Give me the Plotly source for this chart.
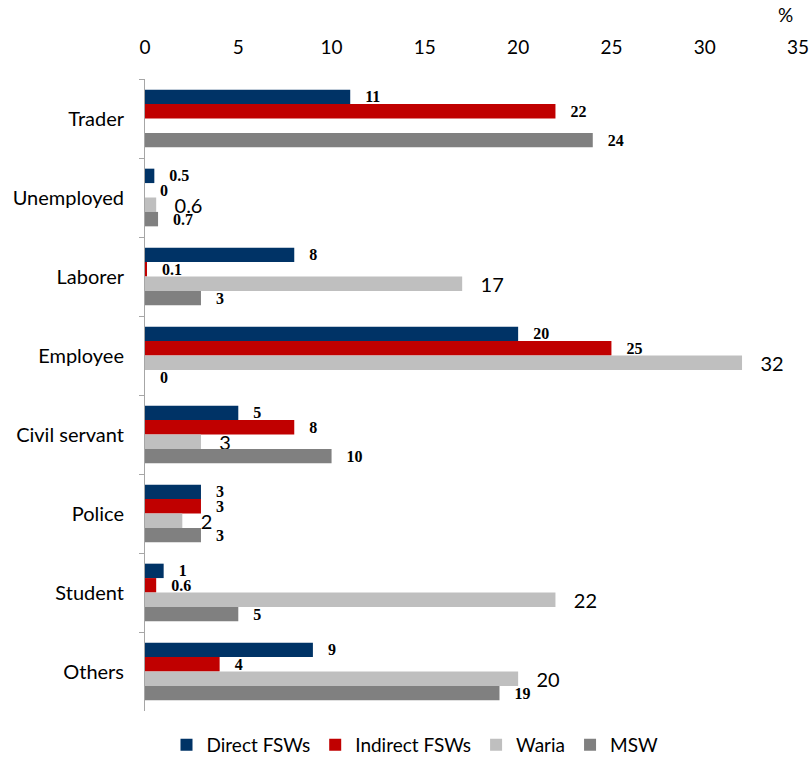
import plotly.graph_objects as go

# Occupation categories (top to bottom)
categories = ["Trader", "Unemployed", "Laborer", "Employee",
              "Civil servant", "Police", "Student", "Others"]

# Percentages per group
direct_fsw = [11, 0.5, 8, 20, 5, 3, 1, 9]
indirect_fsw = [22, 0, 0.1, 25, 8, 3, 0.6, 4]
waria = [None, 0.6, 17, 32, 3, 2, 22, 20]
msw = [24, 0.7, 3, 0, 10, 3, 5, 19]

x_ticks = [0, 5, 10, 15, 20, 25, 30, 35]

SANS = "Lato, 'Open Sans', sans-serif"
SERIF = "'Liberation Serif', 'DejaVu Serif', serif"

W, H = 811, 758
ML, MR, MT, MB = 145, 13, 79, 47


def fmt(v):
    if v is None:
        return ""
    return f"{v:g}"


small_font = dict(family=SERIF, size=16, color="#000000", weight="bold")
series = [
    ("Direct FSWs", direct_fsw, "#003366", small_font),
    ("Indirect FSWs", indirect_fsw, "#C00000", small_font),
    ("Waria", waria, "#BFBFBF", dict(family=SANS, size=20, color="#000000")),
    ("MSW", msw, "#808080", small_font),
]

fig = go.Figure()
for name, vals, color, tfont in series:
    fig.add_trace(go.Bar(
        name=name,
        y=categories,
        x=vals,
        orientation="h",
        marker=dict(color=color, line=dict(width=0)),
        text=["   " + fmt(v) if v is not None else "" for v in vals],
        textposition="outside",
        textfont=tfont,
        constraintext="none",
        cliponaxis=False,
        hoverinfo="skip",
    ))

fig.update_layout(
    width=W,
    height=H,
    barmode="group",
    bargap=0.27,
    bargroupgap=0,
    plot_bgcolor="white",
    paper_bgcolor="white",
    margin=dict(l=ML, r=MR, t=MT, b=MB, autoexpand=False),
    font=dict(family=SANS, size=20, color="#000000"),
    showlegend=True,
    legend=dict(
        orientation="h",
        xref="container", yref="container",
        x=(415 / W), xanchor="center",
        y=(H - 745) / H, yanchor="middle",
        font=dict(family=SANS, size=19, color="#000000"),
        itemwidth=30,
        traceorder="normal",
    ),
    xaxis=dict(
        side="top",
        range=[0, 35],
        tickvals=x_ticks,
        ticktext=[str(t) for t in x_ticks],
        showgrid=False,
        zeroline=False,
        showline=False,
        ticks="",
        ticklabelstandoff=20,
        tickfont=dict(family=SANS, size=19, color="#000000"),
        automargin=False,
        fixedrange=True,
    ),
    yaxis=dict(
        autorange="reversed",
        showgrid=False,
        showline=True,
        linecolor="#A6A6A6",
        linewidth=1,
        ticks="outside",
        ticklen=5,
        tickcolor="#A6A6A6",
        tickson="boundaries",
        ticklabelstandoff=16,
        tickfont=dict(family=SANS, size=20, color="#000000"),
        automargin=False,
        fixedrange=True,
    ),
    annotations=[dict(
        text="%", xref="paper", yref="paper",
        x=(785 - ML) / (W - ML - MR), y=1 + (MT - 15) / (H - MT - MB),
        xanchor="center", yanchor="middle", showarrow=False,
        font=dict(family=SANS, size=19, color="#000000"),
    )],
)

fig.write_html("out.html")
